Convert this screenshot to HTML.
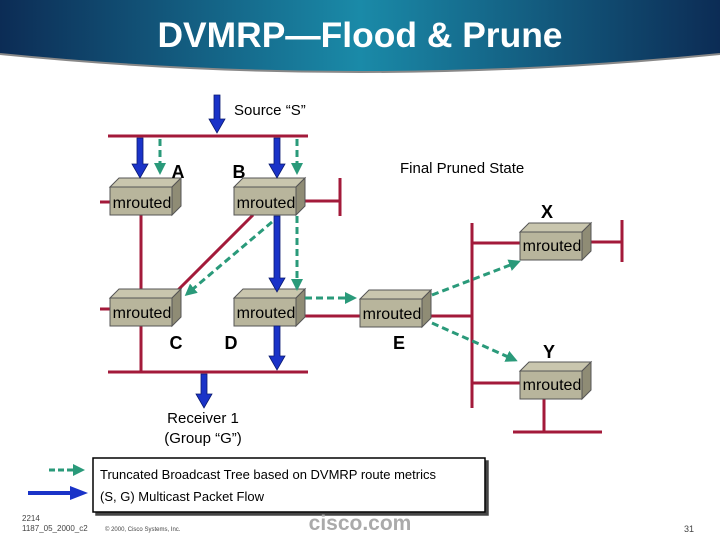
<!DOCTYPE html>
<html><head><meta charset="utf-8"><style>
html,body{margin:0;padding:0;background:#fff;}
svg{display:block;}
text{font-family:"Liberation Sans",sans-serif;}
</style></head><body>
<svg width="720" height="540" viewBox="0 0 720 540" xmlns="http://www.w3.org/2000/svg">
<defs>
<linearGradient id="bg" x1="0" y1="0" x2="1" y2="0">
<stop offset="0" stop-color="#0c2c55"/><stop offset="0.5" stop-color="#1a8aa8"/><stop offset="1" stop-color="#0c2c55"/>
</linearGradient>
<marker id="ga" markerWidth="4" markerHeight="4" refX="3" refY="2" orient="auto" markerUnits="strokeWidth"><path d="M0,0 L4,2 L0,4 Z" fill="#2a9a7a"/></marker>
<filter id="sh"><feDropShadow dx="3" dy="3" stdDeviation="0" flood-color="#444"/></filter>
<g id="r" fill="#b8b59c" stroke="#555" stroke-width="1"><path d="M0,9 L9,0 H71 L62,9 Z" fill="#c9c6ae"/><path d="M62,9 L71,0 V28 L62,37 Z" fill="#8f8c75"/><rect x="0" y="9" width="62" height="28"/></g>
</defs>
<path d="M0,0 H720 V54 Q360,90 0,54 Z" fill="url(#bg)"/>
<path d="M0,54 Q360,90 720,54" fill="none" stroke="#888" stroke-width="2"/>
<text x="360" y="47" text-anchor="middle" fill="#fff" font-size="35" font-weight="bold" textLength="405" lengthAdjust="spacingAndGlyphs">DVMRP—Flood &amp; Prune</text>

<g stroke="#a31a3a" stroke-width="3" fill="none">
<line x1="108" y1="136" x2="308" y2="136"/>
<line x1="100" y1="202" x2="110" y2="202"/>
<line x1="141" y1="215" x2="141" y2="372"/>
<line x1="100" y1="309" x2="110" y2="309"/>
<line x1="108" y1="372" x2="308" y2="372"/>
<line x1="297" y1="201" x2="340" y2="201"/>
<line x1="340" y1="178" x2="340" y2="216"/>
<line x1="253" y1="215" x2="170" y2="298"/>
<line x1="297" y1="316" x2="360" y2="316"/>
<line x1="423" y1="316" x2="472" y2="316"/>
<line x1="472" y1="223" x2="472" y2="408"/>
<line x1="472" y1="243" x2="520" y2="243"/>
<line x1="583" y1="242" x2="622" y2="242"/>
<line x1="622" y1="220" x2="622" y2="262"/>
<line x1="472" y1="383" x2="520" y2="383"/>
<line x1="544" y1="398" x2="544" y2="432"/>
<line x1="513" y1="432" x2="602" y2="432"/>
</g>

<use href="#r" x="110" y="178"/>
<use href="#r" x="234" y="178"/>
<use href="#r" x="110" y="289"/>
<use href="#r" x="234" y="289"/>
<use href="#r" x="360" y="290"/>
<use href="#r" x="520" y="223"/>
<use href="#r" x="520" y="362"/>
<g font-size="16" fill="#000" text-anchor="middle">
<text x="142" y="208">mrouted</text><text x="266" y="208">mrouted</text>
<text x="142" y="318">mrouted</text><text x="266" y="318">mrouted</text>
<text x="392" y="319">mrouted</text><text x="552" y="251">mrouted</text>
<text x="552" y="390">mrouted</text>
</g>
<g font-size="18" font-weight="bold" fill="#000" text-anchor="middle">
<text x="178" y="178">A</text><text x="239" y="178">B</text>
<text x="176" y="349">C</text><text x="231" y="349">D</text>
<text x="399" y="349">E</text><text x="547" y="218">X</text><text x="549" y="358">Y</text>
</g>
<text x="234" y="115" font-size="15">Source “S”</text>
<text x="400" y="173" font-size="15">Final Pruned State</text>
<text x="203" y="423" font-size="15" text-anchor="middle">Receiver 1</text>
<text x="203" y="443" font-size="15" text-anchor="middle">(Group “G”)</text>

<g fill="#1a33c8" stroke="#0a1a70" stroke-width="0.8">
<path d="M214,95 h6 v24 h5 l-8,14 l-8,-14 h5 z"/>
<path d="M137,138 h6 v26 h5 l-8,14 l-8,-14 h5 z"/>
<path d="M274,138 h6 v26 h5 l-8,14 l-8,-14 h5 z"/>
<path d="M274,216 h6 v62 h5 l-8,14 l-8,-14 h5 z"/>
<path d="M274,326 h6 v30 h5 l-8,14 l-8,-14 h5 z"/>
<path d="M201,374 h6 v20 h5 l-8,14 l-8,-14 h5 z"/>
</g>
<g stroke="#2a9a7a" stroke-width="3" stroke-dasharray="7,4" fill="none" marker-end="url(#ga)">
<line x1="160" y1="139" x2="160" y2="172"/>
<line x1="297" y1="139" x2="297" y2="172"/>
<line x1="297" y1="216" x2="297" y2="288"/>
<line x1="272" y1="222" x2="187" y2="294"/>
<line x1="305" y1="298" x2="354" y2="298"/>
<line x1="432" y1="295" x2="518" y2="262"/>
<line x1="432" y1="323" x2="515" y2="360"/>
</g>

<rect x="93" y="458" width="392" height="54" fill="#fff" stroke="#000" stroke-width="1.5" filter="url(#sh)"/>
<line x1="49" y1="470" x2="82" y2="470" stroke="#2a9a7a" stroke-width="3" stroke-dasharray="6,3" marker-end="url(#ga)"/>
<path d="M28,491 h42 v-5 l18,7 l-18,7 v-5 h-42 z" fill="#1a33c8"/>
<text x="100" y="479" font-size="13">Truncated Broadcast Tree  based on DVMRP route metrics</text>
<text x="100" y="501" font-size="13">(S, G) Multicast Packet Flow</text>
<text x="22" y="521" font-size="8" fill="#444">2214</text>
<text x="22" y="531" font-size="8" fill="#444">1187_05_2000_c2</text>
<text x="105" y="531" font-size="6" fill="#444">© 2000, Cisco Systems, Inc.</text>
<text x="360" y="530" font-size="21" text-anchor="middle" fill="#aaa" font-weight="bold" font-family="Liberation Serif,serif">cisco.com</text>
<text x="684" y="532" font-size="9" fill="#444">31</text>
</svg>
</body></html>
